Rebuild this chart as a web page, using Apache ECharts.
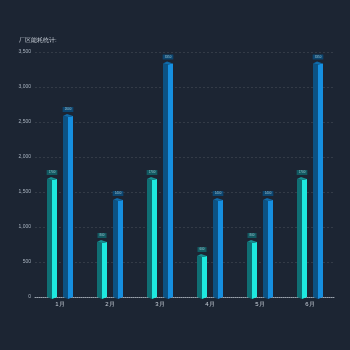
<!DOCTYPE html>
<html>
<head>
<meta charset="utf-8">
<style>
  html, body { margin: 0; padding: 0; background: #1c2533; }
  #chart { width: 350px; height: 350px; }
</style>
<script src="https://cdn.jsdelivr.net/npm/echarts@6/dist/echarts.min.js"></script>
</head>
<body>
<div id="chart"></div>
<script>
const categories = ['1月', '2月', '3月', '4月', '5月', '6月']
const seriesA = [1700, 800, 1700, 600, 800, 1700]
const seriesB = [2600, 1400, 3350, 1400, 1400, 3350]
const yTicks = { min: 0, max: 3500, interval: 500 }

// face colours: [left (dark), right (bright), top cap, label box]
const palettes = [
  ['#0f6f74', '#1de9df', '#168f92', '#125a62'],
  ['#0c5283', '#168fe0', '#0f6aa8', '#0c4670']
]

function bar3d(offset, pal) {
  return function (params, api) {
    const idx = api.value(0)
    const top = api.coord([idx, api.value(1)])
    const base = api.coord([idx, 0])
    const cx = top[0] + offset
    const t = top[1]
    const b = base[1]
    const w = 5
    return {
      type: 'group',
      children: [
        {
          type: 'polygon',
          shape: { points: [[cx - w, t + 1], [cx, t + 2], [cx, b + 2], [cx - w, b]] },
          style: { fill: pal[0] }
        },
        {
          type: 'polygon',
          shape: { points: [[cx, t + 2], [cx + w, t + 1], [cx + w, b], [cx, b + 2]] },
          style: { fill: pal[1] }
        },
        {
          type: 'polygon',
          shape: { points: [[cx - w, t + 1], [cx - 1, t - 1], [cx + w, t + 1], [cx, t + 2]] },
          style: { fill: pal[2] }
        },
        {
          type: 'text',
          x: cx,
          y: t - 3,
          style: {
            text: String(api.value(1)),
            fill: '#9fc4cf',
            fontSize: 3,
            align: 'center',
            verticalAlign: 'bottom',
            backgroundColor: pal[3],
            padding: [1, 2]
          }
        }
      ]
    }
  }
}

const chart = echarts.init(document.getElementById('chart'))
chart.setOption({
  backgroundColor: '#1c2533',
  animation: false,
  title: {
    text: '厂区能耗统计:',
    left: 14,
    top: 32,
    textStyle: { color: '#c8cfd8', fontSize: 6, fontWeight: 'normal' }
  },
  grid: { left: 35, right: 15, top: 52, bottom: 53 },
  xAxis: {
    type: 'category',
    data: categories,
    axisLine: { lineStyle: { color: '#9aa3ae', type: [1, 1] } },
    axisTick: { show: false },
    axisLabel: { color: '#c8cfd8', fontSize: 6, margin: 4 },
    splitLine: { show: false }
  },
  yAxis: {
    type: 'value',
    min: yTicks.min,
    max: yTicks.max,
    interval: yTicks.interval,
    axisLine: { show: false },
    axisTick: { show: false },
    axisLabel: { color: '#aab4c0', fontSize: 5, margin: 4 },
    splitLine: { lineStyle: { color: 'rgba(255,255,255,0.1)', type: [2, 2] } }
  },
  series: [
    {
      type: 'custom',
      renderItem: bar3d(-8, palettes[0]),
      encode: { x: 0, y: 1 },
      data: seriesA.map((v, i) => [i, v])
    },
    {
      type: 'custom',
      renderItem: bar3d(8, palettes[1]),
      encode: { x: 0, y: 1 },
      data: seriesB.map((v, i) => [i, v])
    }
  ]
})
</script>
</body>
</html>
